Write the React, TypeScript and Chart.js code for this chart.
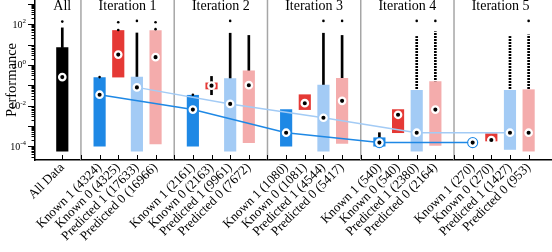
import React, { useEffect, useRef } from 'react';
import { Chart, registerables } from 'chart.js';

Chart.register(...registerables);

const categories = [
  'All Data', '',
  'Known 1 (4324)', 'Known 0 (4325)', 'Predicted 1 (17633)', 'Predicted 0 (16966)', '',
  'Known 1 (2161)', 'Known 0 (2163)', 'Predicted 1 (9961)', 'Predicted 0 (7672)', '',
  'Known 1 (1080)', 'Known 0 (1081)', 'Predicted 1 (4544)', 'Predicted 0 (5417)', '',
  'Known 1 (540)', 'Known 0 (540)', 'Predicted 1 (2380)', 'Predicted 0 (2164)', '',
  'Known 1 (270)', 'Known 0 (270)', 'Predicted 1 (1427)', 'Predicted 0 (953)',
];
const categoryKind = [
  'all', '',
  'k1', 'k0', 'p1', 'p0', '',
  'k1', 'k0', 'p1', 'p0', '',
  'k1', 'k0', 'p1', 'p0', '',
  'k1', 'k0', 'p1', 'p0', '',
  'k1', 'k0', 'p1', 'p0',
];
const groupTitles = ['All', 'Iteration 1', 'Iteration 2', 'Iteration 3', 'Iteration 4', 'Iteration 5'];
const groupCenters = [0, 3.5, 8.5, 13.5, 18.5, 23.5];
const separatorPositions = [1, 6, 11, 16, 21];

const boxLow = [5.7e-5, null, 1e-4, 0.25, 5.7e-5, 1.3e-4, null, 1e-4, 0.065, 5.7e-5, 1.5e-4, null, 1e-4, 0.0063, 5.7e-5, 1.35e-4, null, 1e-4, 4.6e-4, 5.7e-5, 1.1e-4, null, null, 1.8e-4, 6.9e-5, 5.7e-5];
const boxHigh = [7.1, null, 0.24, 49, 0.25, 49, null, 0.032, 0.13, 0.21, 0.51, null, 0.0063, 0.034, 0.1, 0.22, null, 2.6e-4, 0.0063, 0.056, 0.15, null, null, 4.1e-4, 0.056, 0.06];
const medians = [0.25, null, 0.034, 3.2, 0.078, 2.4, null, 0.0063, 0.095, 0.012, 0.1, null, 4.6e-4, 0.013, 0.0025, 0.017, null, 1.5e-4, 0.0035, 4.6e-4, 0.0063, null, 1.5e-4, 2e-4, 4.6e-4, 4.6e-4];
const outlierLow = [7.1, null, null, null, 0.25, null, null, null, 0.034, 0.21, 0.51, null, null, null, 0.1, 0.22, null, 2.6e-4, null, 0.056, 0.15, null, null, null, 0.056, 0.06];
const outlierHigh = [66, null, null, null, 37, null, null, null, 0.27, 36, 28, null, null, null, 36, 28, null, 4.6e-4, null, 25, 43, null, null, null, 25, 30];
const outlierSparse = [false, false, false, false, false, false, false, false, false, false, false, false, false, false, false, false, false, false, false, true, true, false, false, false, true, true];
const isolatedX = [0, 2, 3, 3, 4, 5, 5, 7, 9, 14, 15, 19, 20, 25];
const isolatedY = [134, 0.25, 125, 52, 145, 125, 57, 0.034, 145, 145, 145, 145, 145, 145];

const known1TrendX = [2, 7, 12, 17, 22];
const known1TrendY = [0.034, 0.0063, 4.6e-4, 1.5e-4, 1.5e-4];
const predicted1TrendX = [4, 9, 14, 19, 24];
const predicted1TrendY = [0.078, 0.012, 0.0025, 4.6e-4, 4.6e-4];

const yLabelExponents = [2, 0, -2, -4];

const kindColors: Record<string, string> = {
  all: '#000000',
  k1: 'rgb(30,136,229)',
  k0: 'rgb(229,57,53)',
  p1: 'rgb(163,203,245)',
  p0: 'rgb(244,172,172)',
};
const darkLine = 'rgb(30,136,229)';
const lightLine = 'rgb(163,203,245)';
const FONT = "'Liberation Serif', 'DejaVu Serif', serif";

function makeDotPattern(): any {
  const c = document.createElement('canvas');
  c.width = 2;
  c.height = 3;
  const g = c.getContext('2d')!;
  g.fillStyle = '#000';
  g.fillRect(0, 0, 2, 2);
  return g.createPattern(c, 'repeat');
}

const decorPlugin = {
  id: 'decor',
  beforeDatasetsDraw(chart: any) {
    const { ctx, chartArea } = chart;
    const xs = chart.scales.x;
    ctx.save();
    ctx.strokeStyle = '#a6a6a6';
    ctx.lineWidth = 1.5;
    separatorPositions.forEach((p) => {
      const px = xs.getPixelForValue(p);
      ctx.beginPath();
      ctx.moveTo(px, chartArea.top);
      ctx.lineTo(px, chartArea.bottom);
      ctx.stroke();
    });
    ctx.restore();
  },
  afterDraw(chart: any) {
    const { ctx, chartArea } = chart;
    const xs = chart.scales.x;
    const ys = chart.scales.y;
    ctx.save();
    ctx.strokeStyle = '#000';
    ctx.lineWidth = 1;
    categories.forEach((_, i) => {
      const px = Math.round(xs.getPixelForValue(i)) + 0.5;
      ctx.beginPath();
      ctx.moveTo(px, chartArea.bottom);
      ctx.lineTo(px, chartArea.bottom - 5);
      ctx.stroke();
    });
    ys.ticks.forEach((t: any) => {
      const e = Math.log10(t.value);
      const major = Math.abs(e - Math.round(e)) < 1e-9;
      const py = Math.round(ys.getPixelForValue(t.value)) + 0.5;
      ctx.beginPath();
      ctx.moveTo(chartArea.left, py);
      ctx.lineTo(chartArea.left - (major ? 7 : 3.5), py);
      ctx.stroke();
    });
    ctx.fillStyle = '#000';
    yLabelExponents.forEach((ex) => {
      const py = ys.getPixelForValue(Math.pow(10, ex));
      const xr = chartArea.left - 9;
      ctx.font = `7px ${FONT}`;
      const es = String(ex);
      const ew = ctx.measureText(es).width;
      ctx.textAlign = 'left';
      ctx.textBaseline = 'alphabetic';
      ctx.fillText(es, xr - ew, py - 1);
      ctx.font = `10px ${FONT}`;
      ctx.textAlign = 'right';
      ctx.fillText('10', xr - ew, py + 3.5);
    });
    ctx.font = `14px ${FONT}`;
    ctx.textAlign = 'center';
    ctx.textBaseline = 'alphabetic';
    groupTitles.forEach((t, i) => {
      ctx.fillText(t, xs.getPixelForValue(groupCenters[i]), chartArea.top + 10);
    });
    ctx.restore();
  },
};

export default function App() {
  const ref = useRef<HTMLCanvasElement | null>(null);
  useEffect(() => {
    document.body.style.margin = '0';
    if (!ref.current) return;

    const dotPattern = makeDotPattern();
    const boxData: any[] = [];
    const boxColors: string[] = [];
    const outData: any[] = [];
    const outColors: any[] = [];
    const medData: any[] = [];
    categories.forEach((_, i) => {
      if (boxLow[i] != null && boxHigh[i] != null) {
        boxData.push({ x: i, y: [boxLow[i], boxHigh[i]] });
        boxColors.push(kindColors[categoryKind[i]]);
      }
      if (outlierLow[i] != null && outlierHigh[i] != null) {
        outData.push({ x: i, y: [outlierLow[i], outlierHigh[i]] });
        outColors.push(outlierSparse[i] ? dotPattern : '#000');
      }
      if (medians[i] != null) medData.push({ x: i, y: medians[i] });
    });
    const isoData = isolatedX.map((x, i) => ({ x, y: isolatedY[i] }));
    const k1Line = known1TrendX.map((x, i) => ({ x, y: known1TrendY[i] }));
    const p1Line = predicted1TrendX.map((x, i) => ({ x, y: predicted1TrendY[i] }));

    const yTicks: number[] = [];
    for (let e = -5; e <= 3; e++) {
      for (let m = 1; m <= 9; m++) {
        const v = m * Math.pow(10, e);
        if (v >= 2.09e-5 && v <= 1549) yTicks.push(v);
      }
    }

    const zeroPad = (s: any) => {
      s.paddingLeft = 0;
      s.paddingRight = 0;
      s.paddingTop = 0;
      s.paddingBottom = 0;
    };

    const chart = new Chart(ref.current, {
      data: {
        datasets: [
          {
            type: 'scatter',
            data: medData,
            pointRadius: 3.2,
            pointBackgroundColor: '#000',
            pointBorderColor: '#fff',
            pointBorderWidth: 2.3,
            order: 0,
          } as any,
          {
            type: 'line',
            data: k1Line,
            borderColor: darkLine,
            borderWidth: 1.5,
            pointRadius: 5,
            pointBackgroundColor: 'rgba(0,0,0,0)',
            pointBorderColor: darkLine,
            pointBorderWidth: 1.2,
            tension: 0,
            order: 1,
          } as any,
          {
            type: 'line',
            data: p1Line,
            borderColor: lightLine,
            borderWidth: 1.5,
            pointRadius: 5,
            pointBackgroundColor: 'rgba(0,0,0,0)',
            pointBorderColor: lightLine,
            pointBorderWidth: 1.2,
            tension: 0,
            order: 1,
          } as any,
          {
            type: 'scatter',
            data: isoData,
            pointRadius: 1.3,
            pointBackgroundColor: '#000',
            pointBorderWidth: 0,
            order: 2,
          } as any,
          {
            type: 'bar',
            data: boxData,
            backgroundColor: boxColors,
            barThickness: 11.5,
            grouped: false,
            borderSkipped: false,
            order: 3,
          } as any,
          {
            type: 'bar',
            data: outData,
            backgroundColor: outColors,
            barThickness: 2,
            grouped: false,
            borderSkipped: false,
            order: 4,
          } as any,
        ],
      },
      options: {
        responsive: false,
        animation: false,
        events: [],
        layout: { padding: 0, autoPadding: false },
        plugins: { legend: { display: false }, tooltip: { enabled: false }, title: { display: false } },
        scales: {
          x: {
            type: 'linear',
            min: -0.93,
            max: 25.72,
            afterBuildTicks: (s: any) => {
              s.ticks = categories.map((_, i) => ({ value: i }));
            },
            afterFit: (s: any) => {
              s.height = 92;
              zeroPad(s);
            },
            ticks: {
              autoSkip: false,
              minRotation: 45,
              maxRotation: 45,
              padding: 0,
              color: '#000',
              font: { family: FONT, size: 13 },
              callback: (v: any) => categories[v] ?? '',
            },
            grid: { drawOnChartArea: false, drawTicks: false },
            border: { color: '#000', width: 1.5 },
          },
          y: {
            type: 'logarithmic',
            min: 2.09e-5,
            max: 1549,
            afterBuildTicks: (s: any) => {
              s.ticks = yTicks.map((v) => ({ value: v }));
            },
            afterFit: (s: any) => {
              s.width = 35;
              zeroPad(s);
            },
            ticks: { display: false },
            grid: { drawOnChartArea: false, drawTicks: false },
            border: { color: '#000', width: 1.5 },
            title: {
              display: true,
              text: 'Performance',
              color: '#000',
              font: { family: FONT, size: 14.5 },
              padding: { top: 3, bottom: 0 },
            },
          },
        },
      } as any,
      plugins: [decorPlugin],
    });
    return () => chart.destroy();
  }, []);

  return (
    <div style={{ width: 552, height: 252 }}>
      <canvas ref={ref} width={552} height={252} style={{ display: 'block' }} />
    </div>
  );
}
